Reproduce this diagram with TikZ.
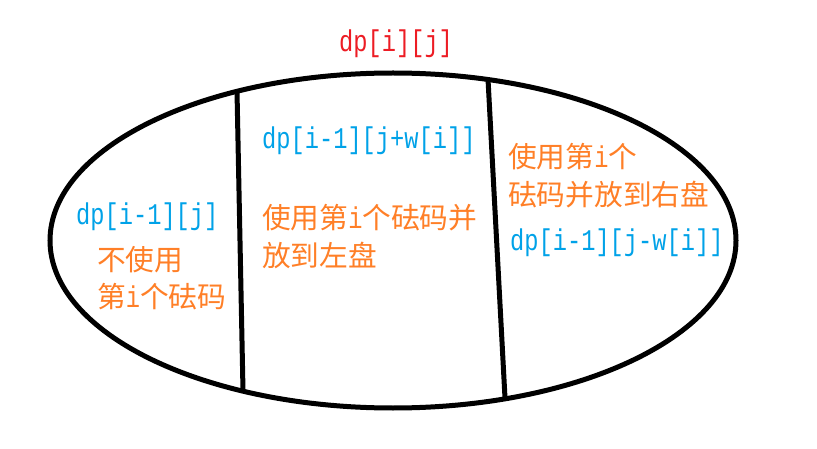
\documentclass[tikz,border=0pt]{standalone}
\usepackage{fontspec}
\newfontfamily\cjk{Noto Sans CJK SC}
\newfontfamily\mono[FakeStretch=0.79]{Liberation Mono}
\definecolor{redC}{HTML}{ED1C24}
\definecolor{blueC}{HTML}{00A2E8}
\definecolor{orangeC}{HTML}{FF7F27}
\newcommand{\mi}{{\mono\fontsize{30}{34}\selectfont i}}
\begin{document}
\begin{tikzpicture}[x=1pt,y=1pt,
  dptext/.style={font=\mono\fontsize{30}{34}\selectfont, anchor=west, inner sep=0pt},
  cntext/.style={font=\cjk\fontsize{28.7}{34}\selectfont, anchor=west, inner sep=0pt, text=orangeC},
  outline/.style={line width=5pt, draw=black}]
\useasboundingbox (0,0) rectangle (817,-449);
\fill[white] (0,0) rectangle (817,-449);
\draw[outline] (393,-240.5) ellipse [x radius=343, y radius=167.5];
\coordinate (l1) at (237,-91);
\coordinate (l2) at (243,-391);
\coordinate (r1) at (488,-79);
\coordinate (r2) at (505,-398);
\draw[outline] (l1) -- (l2);
\draw[outline] (r1) -- (r2);
\node[dptext, text=redC] (top) at (339,-44) {dp[i][j]};
\node[dptext, text=blueC] (mid) at (262,-141) {dp[i-1][j+w[i]]};
\node[dptext, text=blueC] (left) at (76,-217) {dp[i-1][j]};
\node[dptext, text=blueC] (right) at (510,-243) {dp[i-1][j-w[i]]};
\node[cntext] (l1t) at (97,-260) {不使用};
\node[cntext] (l2t) at (97,-297) {第\mi 个砝码};
\node[cntext] (m1t) at (262,-218) {使用第\mi 个砝码并};
\node[cntext] (m2t) at (262,-255) {放到左盘};
\node[cntext] (r1t) at (508,-157) {使用第\mi 个};
\node[cntext] (r2t) at (508,-195) {砝码并放到右盘};
\end{tikzpicture}
\end{document}
